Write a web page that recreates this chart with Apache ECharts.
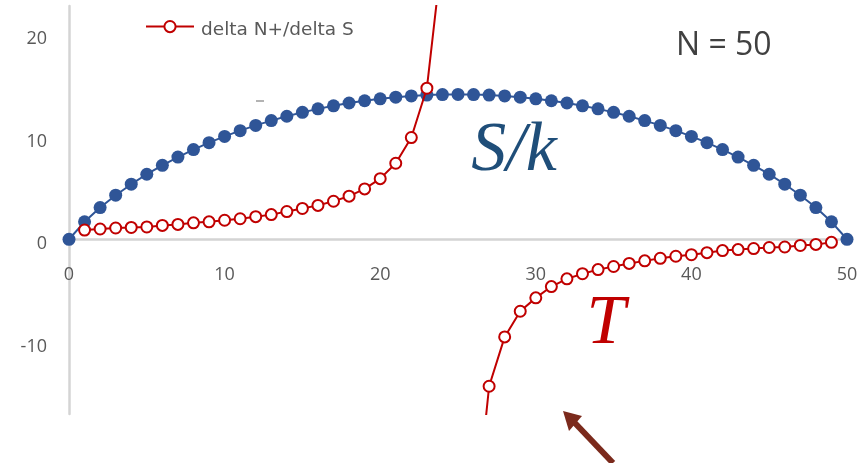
<!DOCTYPE html>
<html>
<head>
<meta charset="utf-8">
<title>Entropy and temperature, N = 50</title>
<script src="https://cdn.jsdelivr.net/npm/echarts@6/dist/echarts.min.js"></script>
<style>
  html, body { margin: 0; padding: 0; background: #ffffff; }
  #chart { width: 864px; height: 463px; }
</style>
</head>
<body>
<div id="chart"></div>
<script>
// Number of up spins N+ runs from 0 to N = 50 (index of each array below)
const xTicks = [0, 10, 20, 30, 40, 50];
const yTicks = [-10, 0, 10, 20];

// Entropy S/k for each N+
const entropy = [
  0, 1.70, 3.09, 4.29, 5.36, 6.33, 7.20, 8.00, 8.73, 9.40,
  10.01, 10.57, 11.08, 11.55, 11.97, 12.35, 12.69, 12.99, 13.26, 13.48,
  13.67, 13.83, 13.95, 14.03, 14.08, 14.10, 14.08, 14.03, 13.95, 13.83,
  13.67, 13.48, 13.26, 12.99, 12.69, 12.35, 11.97, 11.55, 11.08, 10.57,
  10.01, 9.40, 8.73, 8.00, 7.20, 6.33, 5.36, 4.29, 3.09, 1.70, 0
];

// Temperature T = delta N+ / delta S (undefined at both ends and at the peak)
const temperature = [
  null, 0.9, 1.0, 1.1, 1.15, 1.2, 1.35, 1.45, 1.6, 1.7,
  1.85, 2.0, 2.2, 2.4, 2.7, 3.0, 3.3, 3.7, 4.2, 4.9,
  5.9, 7.4, 9.9, 14.7, 28, null, -29, -14.3, -9.5, -7.0,
  -5.7, -4.6, -3.85, -3.35, -2.95, -2.65, -2.35, -2.1, -1.85, -1.65,
  -1.5, -1.3, -1.1, -1.0, -0.9, -0.8, -0.75, -0.6, -0.5, -0.3, null
];

const BLUE = '#2f5597';
const RED = '#c00000';
const LABEL = '#595959';
const AXIS = '#d4d4d4';

// Plot area and value range
const GRID = { left: 69, right: 17, top: 6, bottom: 49 };
const Y_MIN = -17;
const Y_MAX = 22.7;
const plotHeight = 463 - GRID.top - GRID.bottom;
// lift the horizontal axis (line and labels) from the bottom edge up to y = 0
const xAxisLift = -plotHeight * (0 - Y_MIN) / (Y_MAX - Y_MIN);

const chart = echarts.init(document.getElementById('chart'), null, { renderer: 'canvas' });

chart.setOption({
  animation: false,
  backgroundColor: '#ffffff',
  grid: Object.assign({ containLabel: false }, GRID),
  legend: {
    data: ['delta N+/delta S'],
    left: 145,
    top: 20,
    padding: 0,
    itemWidth: 48,
    itemHeight: 14,
    formatter: (name) => '{t|' + name + '}',
    textStyle: {
      rich: {
        t: {
          fontFamily: 'DejaVu Sans',
          fontSize: 18.5,
          color: LABEL,
          padding: [8, 0, 0, 2]
        }
      }
    }
  },
  xAxis: {
    type: 'value',
    min: 0,
    max: 50,
    interval: 10,
    position: 'bottom',
    offset: xAxisLift,
    axisLine: { onZero: false, lineStyle: { color: AXIS, width: 2.5 } },
    axisTick: { show: false },
    splitLine: { show: false },
    axisLabel: {
      margin: 27,
      fontFamily: 'Open Sans',
      fontSize: 18,
      color: LABEL,
      customValues: xTicks
    }
  },
  yAxis: {
    type: 'value',
    min: Y_MIN,
    max: Y_MAX,
    axisLine: { show: true, lineStyle: { color: AXIS, width: 2.5 } },
    axisTick: { show: false },
    splitLine: { show: false },
    axisLabel: {
      margin: 22,
      customValues: yTicks,
      formatter: (v) => '{p|' + v + '}',
      rich: {
        p: {
          fontFamily: 'Open Sans',
          fontSize: 18,
          color: LABEL,
          padding: [10, 0, 0, 0]
        }
      }
    }
  },
  series: [
    {
      name: 'S/k',
      type: 'line',
      data: entropy.map((v, i) => [i, v]),
      symbol: 'circle',
      symbolSize: 13,
      itemStyle: { color: BLUE },
      lineStyle: { color: BLUE, width: 2 },
      z: 2
    },
    {
      name: 'delta N+/delta S',
      type: 'line',
      data: temperature.map((v, i) => [i, v]),
      connectNulls: false,
      symbol: 'emptyCircle',
      symbolSize: 11,
      itemStyle: { color: RED, borderColor: RED, borderWidth: 2 },
      lineStyle: { color: RED, width: 2 },
      clip: true,
      z: 3
    }
  ],
  graphic: [
    {
      type: 'text',
      left: 676,
      top: 30,
      style: { text: 'N = 50', font: '32px "Open Sans"', fill: '#404040' }
    },
    {
      type: 'text',
      x: 514,
      y: 152,
      style: {
        text: 'S/k',
        font: 'italic 70px "Liberation Serif"',
        fill: '#1f4e79',
        textAlign: 'center',
        textVerticalAlign: 'middle'
      }
    },
    {
      type: 'text',
      x: 606,
      y: 325,
      style: {
        text: 'T',
        font: 'italic 70px "Liberation Serif"',
        fill: RED,
        textAlign: 'center',
        textVerticalAlign: 'middle'
      }
    },
    {
      type: 'line',
      shape: { x1: 256, y1: 101, x2: 264, y2: 101 },
      style: { stroke: '#9a9a9a', lineWidth: 1.5 }
    },
    {
      type: 'line',
      shape: { x1: 613, y1: 463, x2: 573, y2: 421 },
      style: { stroke: '#7b2a1c', lineWidth: 6 }
    },
    {
      type: 'polygon',
      shape: { points: [[563, 411], [582, 416], [569, 431]] },
      style: { fill: '#7b2a1c' }
    }
  ]
});
</script>
</body>
</html>
